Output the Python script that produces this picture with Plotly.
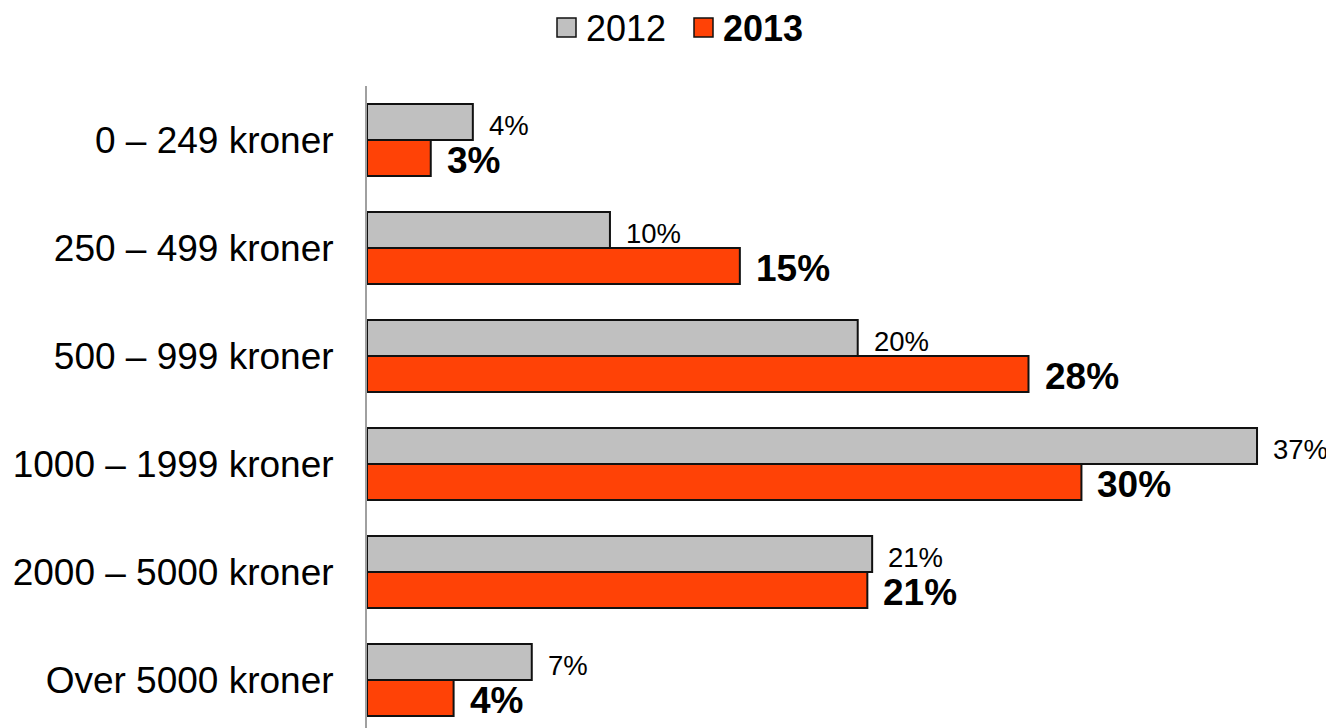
import plotly.graph_objects as go

categories = ["0 – 249 kroner", "250 – 499 kroner", "500 – 999 kroner",
              "1000 – 1999 kroner", "2000 – 5000 kroner", "Over 5000 kroner"]
values_2012 = [4.4, 10.1, 20.4, 37.0, 21.0, 6.85]
values_2013 = [2.65, 15.5, 27.5, 29.7, 20.8, 3.6]
labels_2012 = ["4%", "10%", "20%", "37%", "21%", "7%"]
labels_2013 = ["3%", "15%", "28%", "30%", "21%", "4%"]
series_names = ["2012", "2013"]

GRAY = "#C0C0C0"
ORANGE = "#FF4206"
EDGE = "#111111"
FONT = "Liberation Sans, Arial, sans-serif"

# page body has an 8px default margin; compensate so the picture lines up
OFF = 8
W, H = 1334 - OFF, 728 - OFF
ML, MT = 367 - OFF, 86 - OFF
PW, PH = W - ML, H - MT

fig = go.Figure()
fig.add_trace(go.Bar(y=categories, x=values_2012, orientation="h", name=series_names[0],
                     marker=dict(color=GRAY, line=dict(color=EDGE, width=2)),
                     showlegend=False))
fig.add_trace(go.Bar(y=categories, x=values_2013, orientation="h", name=series_names[1],
                     marker=dict(color=ORANGE, line=dict(color=EDGE, width=2)),
                     showlegend=False))

annotations = []
w = (1 - 1/3) / 2
for i, (v, t) in enumerate(zip(values_2012, labels_2012)):
    annotations.append(dict(x=v, y=i - w/2, xref="x", yref="y", text=t,
                            showarrow=False, xanchor="left", yanchor="middle",
                            xshift=14, yshift=-3,
                            font=dict(family=FONT, size=27.5, color="#000")))
for i, (v, t) in enumerate(zip(values_2013, labels_2013)):
    annotations.append(dict(x=v, y=i + w/2, xref="x", yref="y", text="<b>" + t + "</b>",
                            showarrow=False, xanchor="left", yanchor="middle",
                            xshift=14, yshift=-2,
                            font=dict(family=FONT, size=37, color="#000")))

# custom legend (page pixel positions converted to paper coords)
def px(x):
    return (x - OFF - ML) / PW

def py(y):
    return (H - (y - OFF)) / PH

shapes = []
legend_items = [(557, GRAY, series_names[0], False), (694, ORANGE, series_names[1], True)]
for x0, col, name, bold in legend_items:
    shapes.append(dict(type="rect", xref="paper", yref="paper",
                       x0=px(x0), x1=px(x0 + 19), y0=py(37), y1=py(18),
                       fillcolor=col, line=dict(color=EDGE, width=1.5)))
    annotations.append(dict(x=px(x0 + 27), y=py(28), xref="paper", yref="paper",
                            text=("<b>%s</b>" % name) if bold else name,
                            showarrow=False, xanchor="left", yanchor="middle",
                            font=dict(family=FONT, size=36, color="#000")))

n = len(categories)
fig.update_layout(
    width=W, height=H,
    margin=dict(l=ML, r=0, t=MT, b=0, autoexpand=False),
    plot_bgcolor="white", paper_bgcolor="white",
    barmode="group", bargap=1/3, bargroupgap=0,
    font=dict(family=FONT, size=37, color="#000"),
    annotations=annotations, shapes=shapes,
    showlegend=False,
    xaxis=dict(range=[0, 40.2], visible=False, showgrid=False, zeroline=False,
               automargin=False),
    yaxis=dict(type="category", range=[n - 0.5 - (6 - PH/108), -0.5],
               showline=True, linecolor="#A0A0A0", linewidth=2,
               showgrid=False, zeroline=False, ticks="",
               ticklabelstandoff=24, automargin=False,
               tickfont=dict(family=FONT, size=37, color="#000")),
)

fig.write_html("out.html")
